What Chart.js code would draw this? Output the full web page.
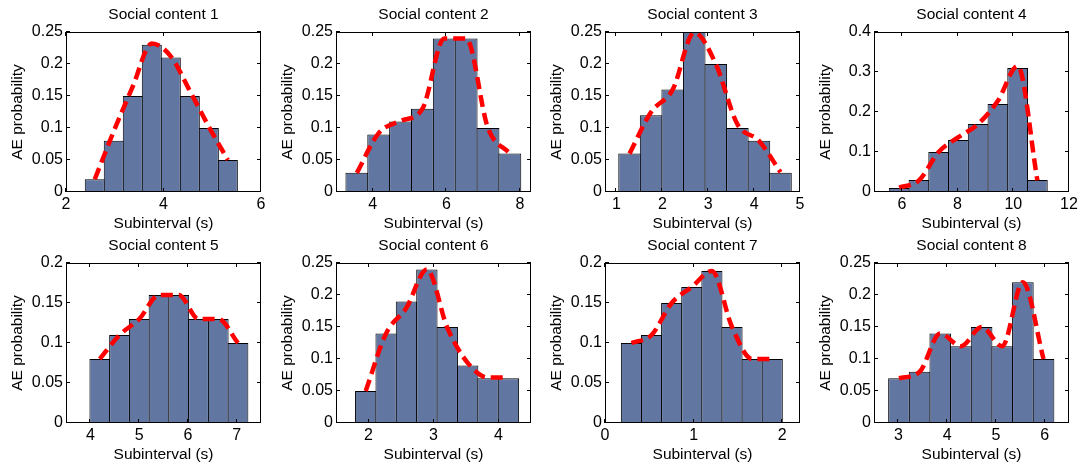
<!DOCTYPE html>
<html>
<head>
<meta charset="utf-8">
<script src="https://cdn.jsdelivr.net/npm/chart.js@4.4.1/dist/chart.umd.min.js"></script>
<style>
  html, body { margin: 0; padding: 0; background: #fff; overflow: hidden; }
  body { width: 1082px; height: 468px; position: relative; }
  canvas { position: absolute; }
</style>
</head>
<body>
<script>
// === Data (bin centres, AE probability, and the red smoothed curve read at the bin centres) ===
const panelTitles = ['Social content 1', 'Social content 2', 'Social content 3', 'Social content 4',
                     'Social content 5', 'Social content 6', 'Social content 7', 'Social content 8'];

const centers1 = [2.59, 2.98, 3.37, 3.76, 4.15, 4.54, 4.93, 5.32];
const probs1   = [0.02, 0.08, 0.15, 0.23, 0.21, 0.15, 0.10, 0.05];
const fit1     = [0.02, 0.095, 0.165, 0.232, 0.212, 0.158, 0.102, 0.05];
const centers2 = [3.567, 4.161, 4.755, 5.349, 5.943, 6.537, 7.131, 7.725];
const probs2   = [0.03, 0.09, 0.11, 0.13, 0.24, 0.24, 0.10, 0.06];
const fit2     = [0.03, 0.092, 0.111, 0.13, 0.24, 0.24, 0.10, 0.06];
const centers3 = [1.285, 1.755, 2.225, 2.695, 3.165, 3.635, 4.105, 4.575];
const probs3   = [0.06, 0.12, 0.16, 0.25, 0.20, 0.10, 0.08, 0.03];
const fit3     = [0.06, 0.125, 0.16, 0.249, 0.20, 0.106, 0.08, 0.031];
const centers4 = [5.904, 6.613, 7.321, 8.030, 8.739, 9.448, 10.156, 10.865];
const probs4   = [0.01, 0.03, 0.10, 0.13, 0.17, 0.22, 0.31, 0.03];
const fit4     = [0.011, 0.029, 0.10, 0.137, 0.17, 0.228, 0.315, 0.029];
const centers5 = [4.193, 4.598, 5.003, 5.408, 5.813, 6.218, 6.623, 7.028];
const probs5   = [0.08, 0.11, 0.13, 0.16, 0.16, 0.13, 0.13, 0.10];
const fit5     = [0.08, 0.11, 0.13, 0.16, 0.16, 0.13, 0.13, 0.10];
const centers6 = [1.957, 2.271, 2.584, 2.898, 3.212, 3.526, 3.839, 4.153];
const probs6   = [0.05, 0.14, 0.19, 0.24, 0.15, 0.09, 0.07, 0.07];
const fit6     = [0.05, 0.14, 0.18, 0.24, 0.149, 0.094, 0.071, 0.071];
const centers7 = [0.298, 0.525, 0.752, 0.979, 1.206, 1.433, 1.660, 1.887];
const probs7   = [0.10, 0.11, 0.15, 0.17, 0.19, 0.12, 0.08, 0.08];
const fit7     = [0.10, 0.11, 0.15, 0.17, 0.19, 0.12, 0.08, 0.08];
const centers8 = [3.012, 3.436, 3.859, 4.283, 4.707, 5.131, 5.554, 5.978];
const probs8   = [0.07, 0.08, 0.14, 0.12, 0.15, 0.12, 0.22, 0.10];
const fit8     = [0.07, 0.08, 0.14, 0.12, 0.15, 0.12, 0.22, 0.10];

const xTicks = [[2, 4, 6], [4, 6, 8], [1, 2, 3, 4, 5], [6, 8, 10, 12],
                [4, 5, 6, 7], [2, 3, 4], [0, 1, 2], [3, 4, 5, 6]];
const xMins = [2, 3, 0.75, 5, 3.5, 1.5, 0, 2.5];
const xMaxs = [6, 8.3, 5, 12, 7.5, 4.5, 2.2, 6.5];

const yTicks25 = [0, 0.05, 0.1, 0.15, 0.2, 0.25];
const yTicks20 = [0, 0.05, 0.1, 0.15, 0.2];
const yTicks40 = [0, 0.1, 0.2, 0.3, 0.4];
const yTicks = [yTicks25, yTicks25, yTicks25, yTicks40, yTicks20, yTicks25, yTicks20, yTicks25];

const xLabel = 'Subinterval (s)';
const yLabel = 'AE probability';

const allCenters = [centers1, centers2, centers3, centers4, centers5, centers6, centers7, centers8];
const allProbs = [probs1, probs2, probs3, probs4, probs5, probs6, probs7, probs8];
const allFits = [fit1, fit2, fit3, fit4, fit5, fit6, fit7, fit8];

// === Layout ===
const PLOT_W = 195, PLOT_H = 160;
const Y_AXIS_W = 66, TITLE_H = 32, X_AXIS_H = 41;
const colLefts = [0, 270, 539, 808];
const rowTops = [0, 231];
const FONT = "'Liberation Sans', Arial, Helvetica, sans-serif";
const BAR_COLOR = 'rgb(97, 118, 160)';

Chart.defaults.font.family = FONT;
Chart.defaults.font.size = 16;
Chart.defaults.color = '#000';

// Matlab-like box with inward ticks on all four sides
const axesBox = {
    id: 'axesBox',
    afterDatasetsDraw(chart) {
        const { ctx, chartArea: a, scales: { x, y } } = chart;
        const tl = 4;
        ctx.save();
        ctx.strokeStyle = '#000';
        ctx.lineWidth = 1;
        ctx.beginPath();
        x.ticks.forEach(t => {
            const px = Math.round(x.getPixelForValue(t.value)) - 0.5;
            ctx.moveTo(px, a.bottom); ctx.lineTo(px, a.bottom - tl);
            ctx.moveTo(px, a.top); ctx.lineTo(px, a.top + tl);
        });
        y.ticks.forEach(t => {
            const py = Math.round(y.getPixelForValue(t.value)) - 0.5;
            ctx.moveTo(a.left, py); ctx.lineTo(a.left + tl, py);
            ctx.moveTo(a.right, py); ctx.lineTo(a.right - tl, py);
        });
        ctx.stroke();
        ctx.strokeRect(a.left + 0.5, a.top + 0.5, a.right - a.left - 1, a.bottom - a.top - 1);
        ctx.restore();
    }
};

for (let i = 0; i < 8; i++) {
    const canvas = document.createElement('canvas');
    const w = Y_AXIS_W + PLOT_W + Y_AXIS_W;
    const h = TITLE_H + PLOT_H + X_AXIS_H;
    canvas.width = w;
    canvas.height = h;
    canvas.style.width = w + 'px';
    canvas.style.height = h + 'px';
    canvas.style.left = colLefts[i % 4] + 'px';
    canvas.style.top = rowTops[Math.floor(i / 4)] + 'px';
    document.body.appendChild(canvas);

    const centers = allCenters[i];
    const probs = allProbs[i];
    const fit = allFits[i];
    const xMin = xMins[i], xMax = xMaxs[i];
    const yT = yTicks[i];
    // bars overlap by one pixel so neighbouring outlines merge into a single line
    const step = centers[1] - centers[0];
    const barPx = step * PLOT_W / (xMax - xMin);

    new Chart(canvas.getContext('2d'), {
        type: 'bar',
        data: {
            datasets: [
                {
                    type: 'line',
                    data: centers.map((c, j) => ({ x: c, y: fit[j] })),
                    borderColor: '#ff0000',
                    borderWidth: 4.5,
                    borderDash: [12, 6],
                    cubicInterpolationMode: 'monotone',
                    pointRadius: 0,
                    fill: false,
                    order: 0
                },
                {
                    type: 'bar',
                    data: centers.map((c, j) => ({ x: c, y: probs[j] })),
                    backgroundColor: BAR_COLOR,
                    borderColor: '#000',
                    borderWidth: 1,
                    borderSkipped: 'start',
                    categoryPercentage: 1,
                    barPercentage: 1 + 1 / barPx,
                    order: 1
                }
            ]
        },
        options: {
            responsive: false,
            animation: false,
            devicePixelRatio: 1,
            layout: { padding: { left: 0, right: Y_AXIS_W, top: 0, bottom: 0 } },
            plugins: {
                legend: { display: false },
                tooltip: { enabled: false },
                title: {
                    display: true,
                    text: panelTitles[i],
                    fullSize: false,
                    color: '#000',
                    font: { family: FONT, size: 15.5, weight: 'normal', lineHeight: '18px' },
                    padding: { top: 6, bottom: 8 }
                }
            },
            scales: {
                x: {
                    type: 'linear',
                    min: xMin,
                    max: xMax,
                    offset: false,
                    grid: { display: false, drawTicks: false, offset: false },
                    border: { display: false },
                    afterBuildTicks: s => { s.ticks = xTicks[i].map(v => ({ value: v })); },
                    afterFit: s => { s.height = X_AXIS_H; },
                    ticks: {
                        autoSkip: false,
                        maxRotation: 0,
                        padding: 3,
                        color: '#000',
                        font: { family: FONT, size: 16, lineHeight: 1.2 },
                        callback: v => String(v)
                    },
                    title: {
                        display: true,
                        text: xLabel,
                        color: '#000',
                        font: { family: FONT, size: 15.5, lineHeight: '18px' },
                        padding: { top: 0, bottom: 0 }
                    }
                },
                y: {
                    type: 'linear',
                    min: yT[0],
                    max: yT[yT.length - 1],
                    grid: { display: false, drawTicks: false },
                    border: { display: false },
                    afterBuildTicks: s => { s.ticks = yT.map(v => ({ value: v })); },
                    afterFit: s => { s.width = Y_AXIS_W; },
                    ticks: {
                        padding: 3,
                        color: '#000',
                        font: { family: FONT, size: 16, lineHeight: 1.2 },
                        callback: v => String(v)
                    },
                    title: {
                        display: true,
                        text: yLabel,
                        color: '#000',
                        font: { family: FONT, size: 15.5, lineHeight: '18px' },
                        padding: { top: 9, bottom: 0 }
                    }
                }
            }
        },
        plugins: [axesBox]
    });
}
</script>
</body>
</html>
